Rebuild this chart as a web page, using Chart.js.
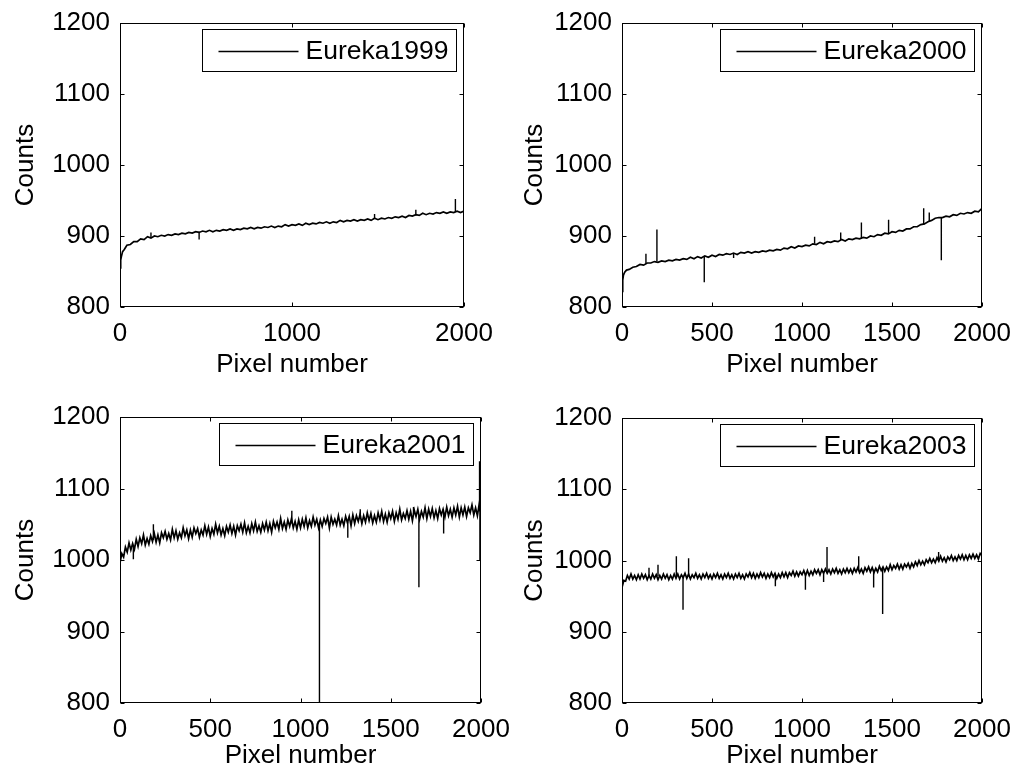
<!DOCTYPE html>
<html>
<head>
<meta charset="utf-8">
<script src="https://cdn.jsdelivr.net/npm/chart.js@4.4.0/dist/chart.umd.min.js"></script>
<style>
body { margin: 0; background: #fff; }
#wrap { position: relative; width: 1018px; height: 776px; overflow: hidden; }
canvas { position: absolute; }
</style>
</head>
<body>
<div id="wrap">
  <canvas id="c1"></canvas>
  <canvas id="c2"></canvas>
  <canvas id="c3"></canvas>
  <canvas id="c4"></canvas>
</div>
<script>
var pixels = [0, 4, 8, 15, 25, 40, 60, 80, 100, 120, 140, 160, 180, 200, 220, 240, 260, 280, 300,
  320, 340, 360, 380, 400, 420, 440, 460, 480, 500, 520, 540, 560, 580, 600, 620, 640, 660, 680, 700,
  720, 740, 760, 780, 800, 820, 840, 860, 880, 900, 920, 940, 960, 980, 1000, 1020, 1040, 1060, 1080, 1100,
  1120, 1140, 1160, 1180, 1200, 1220, 1240, 1260, 1280, 1300, 1320, 1340, 1360, 1380, 1400, 1420, 1440, 1460,
  1480, 1500, 1520, 1540, 1560, 1580, 1600, 1620, 1640, 1660, 1680, 1700, 1720, 1740, 1760, 1780, 1800,
  1820, 1840, 1860, 1880, 1900, 1920, 1940, 1960, 1980, 2000];

// denser reading for the two noisier ones
var finePixels = [0, 10, 20, 30, 40, 50, 60, 70, 80, 90,
  100, 110, 120, 130, 140, 150, 160, 170, 180, 190, 200, 210, 220, 230, 240, 250, 260, 270, 280, 290,
  300, 310, 320, 330, 340, 350, 360, 370, 380, 390, 400, 410, 420, 430, 440, 450, 460, 470, 480, 490,
  500, 510, 520, 530, 540, 550, 560, 570, 580, 590, 600, 610, 620, 630, 640, 650, 660, 670, 680, 690,
  700, 710, 720, 730, 740, 750, 760, 770, 780, 790, 800, 810, 820, 830, 840, 850, 860, 870, 880, 890,
  900, 910, 920, 930, 940, 950, 960, 970, 980, 990, 1000, 1010, 1020, 1030, 1040, 1050, 1060, 1070, 1080, 1090,
  1100, 1110, 1120, 1130, 1140, 1150, 1160, 1170, 1180, 1190, 1200, 1210, 1220, 1230, 1240, 1250, 1260, 1270, 1280, 1290,
  1300, 1310, 1320, 1330, 1340, 1350, 1360, 1370, 1380, 1390, 1400, 1410, 1420, 1430, 1440, 1450, 1460, 1470, 1480, 1490,
  1500, 1510, 1520, 1530, 1540, 1550, 1560, 1570, 1580, 1590, 1600, 1610, 1620, 1630, 1640, 1650, 1660, 1670, 1680, 1690,
  1700, 1710, 1720, 1730, 1740, 1750, 1760, 1770, 1780, 1790, 1800, 1810, 1820, 1830, 1840, 1850, 1860, 1870, 1880, 1890,
  1900, 1910, 1920, 1930, 1940, 1950, 1960, 1970, 1980, 1990, 2000];

var eureka1999 = [855, 866, 871, 878, 881, 887, 888, 892, 892, 896, 895, 899, 897, 900, 899, 901, 900, 902, 901,
  903, 902, 904, 903, 905, 904, 906, 905, 907, 906, 908, 906, 908, 907, 909, 908, 910, 908, 910, 909,
  911, 910, 912, 910, 912, 911, 913, 912, 914, 912, 914, 913, 916, 914, 916, 915, 917, 915, 918, 916,
  918, 917, 919, 918, 920, 918, 920, 919, 922, 920, 922, 921, 923, 921, 923, 922, 924, 922,
  925, 923, 925, 924, 926, 925, 927, 926, 928, 926, 929, 928, 930, 929, 932, 930, 932,
  931, 933, 932, 934, 932, 934, 933, 935, 933, 935];

var eureka2000 = [822, 838, 845, 849, 852, 853, 856, 857, 860, 859, 862, 862, 864, 863, 865, 864, 866, 865, 867,
  866, 868, 867, 870, 868, 871, 869, 872, 870, 873, 871, 874, 873, 875, 874, 876, 874, 877, 876, 878,
  876, 878, 877, 879, 878, 880, 879, 881, 880, 883, 882, 885, 883, 886, 885, 887, 886, 889, 888, 891,
  889, 892, 891, 893, 892, 895, 893, 896, 895, 897, 896, 898, 897, 900, 899, 902, 901, 904,
  903, 906, 905, 908, 907, 910, 910, 913, 913, 916, 917, 920, 922, 925, 926, 926, 928,
  927, 930, 929, 932, 931, 933, 932, 935, 934, 939];

var eureka2001 = [996, 1009, 1004, 1018, 1011, 1024, 1014, 1023, 1015, 1029,
  1019, 1031, 1023, 1035, 1021, 1030, 1022, 1034, 1026, 1037,
  1025, 1035, 1024, 1038, 1031, 1040, 1029, 1037, 1028, 1043,
  1031, 1041, 1029, 1038, 1031, 1045, 1034, 1042, 1030, 1042,
  1032, 1045, 1037, 1044, 1032, 1042, 1035, 1048, 1036, 1046,
  1033, 1044, 1036, 1050, 1038, 1047, 1035, 1044, 1034, 1047,
  1039, 1049, 1037, 1047, 1035, 1048, 1041, 1050, 1039, 1052,
  1038, 1047, 1038, 1051, 1041, 1053, 1040, 1048, 1039, 1051,
  1042, 1053, 1041, 1051, 1039, 1054, 1045, 1053, 1043, 1058,
  1044, 1053, 1043, 1056, 1047, 1058, 1045, 1054, 1043, 1056,
  1045, 1057, 1047, 1059, 1045, 1055, 1047, 1060, 1049, 1057,
  1045, 1056, 1047, 1058, 1051, 1060, 1045, 1060, 1050, 1057,
  1049, 1062, 1049, 1057, 1048, 1061, 1052, 1061, 1048, 1063,
  1051, 1062, 1054, 1064, 1051, 1062, 1053, 1066, 1055, 1065,
  1052, 1062, 1053, 1066, 1056, 1068, 1054, 1064, 1053, 1066,
  1058, 1068, 1054, 1066, 1057, 1071, 1056, 1065, 1058, 1069,
  1057, 1068, 1055, 1070, 1061, 1071, 1057, 1068, 1060, 1073,
  1058, 1071, 1061, 1072, 1059, 1069, 1058, 1072, 1063, 1071,
  1060, 1074, 1062, 1071, 1060, 1073, 1063, 1075, 1060, 1073,
  1063, 1074, 1061, 1073, 1066, 1077, 1063, 1073, 1062, 1078,
  1068];

var eureka2003 = [962, 972, 971, 979, 974, 981, 974, 979, 973, 980,
  974, 981, 975, 980, 973, 979, 974, 981, 975, 980,
  973, 979, 974, 981, 975, 980, 973, 979, 974, 981,
  975, 981, 974, 980, 976, 982, 975, 981, 974, 980,
  976, 982, 975, 980, 974, 981, 976, 982, 975, 980,
  974, 981, 976, 982, 975, 980, 974, 981, 976, 982,
  975, 980, 974, 981, 976, 982, 975, 980, 974, 981,
  977, 983, 976, 982, 975, 981, 976, 983, 977, 982,
  975, 981, 976, 983, 977, 982, 975, 981, 976, 983,
  977, 983, 976, 983, 979, 985, 978, 984, 978, 984,
  980, 986, 979, 986, 979, 985, 980, 987, 982, 987,
  980, 987, 982, 988, 982, 987, 981, 988, 983, 989,
  982, 987, 981, 988, 983, 989, 983, 988, 982, 989,
  984, 990, 983, 988, 982, 990, 985, 991, 984, 990,
  983, 989, 984, 992, 986, 991, 985, 991, 986, 994,
  987, 993, 989, 995, 988, 994, 988, 995, 991, 996,
  989, 996, 991, 998, 993, 1000, 994, 999, 994, 1001,
  997, 1003, 997, 1002, 997, 1004, 999, 1006, 999, 1004,
  998, 1005, 1001, 1007, 1000, 1005, 1000, 1007, 1002, 1008,
  1001, 1007, 1001, 1008, 1003, 1009, 1003, 1008, 1002, 1010,
  1007];

// single-pixel spikes: [pixel, level beside it, tip]
var spikes1999 = [[180, 898, 905], [460, 906, 895], [1480, 924, 931], [1720, 929, 937], [1950, 934, 952]];
var spikes2000 = [[133, 861, 875], [194, 864, 909], [457, 871, 835], [620, 876, 869], [1070, 889, 899],
  [1215, 894, 905], [1330, 897, 919], [1481, 903, 923], [1676, 916, 939], [1707, 920, 933], [1774, 926, 866]];
var spikes2001 = [[74, 1020, 1001], [185, 1028, 1050], [952, 1051, 1069], [1105, 1052, 800], [1262, 1054, 1031],
  [1331, 1057, 1071], [1626, 1064, 1074], [1656, 1062, 962], [1793, 1066, 1037], [1992, 1068, 1138], [1994, 1068, 999]];
var spikes2003 = [[150, 978, 990], [200, 978, 994], [302, 978, 1006], [339, 978, 931], [370, 978, 1003],
  [852, 979, 964], [1019, 981, 959], [1120, 982, 970], [1139, 984, 1019], [1315, 985, 1006],
  [1398, 987, 962], [1448, 988, 925], [1759, 1002, 1012]];

var yTicks = [800, 900, 1000, 1100, 1200];

Chart.defaults.font.family = '"Liberation Sans", Arial, sans-serif';
Chart.defaults.color = '#000';

var panels = [
  { id: 'c1', left: 0, top: 0, w: 509, h: 388, area: [120, 23, 464, 307], step: 1000, titlePad: 8,
    label: 'Eureka1999', xs: pixels, ys: eureka1999, spikes: spikes1999 },
  { id: 'c2', left: 509, top: 0, w: 509, h: 388, area: [622, 23, 982, 307], step: 500, titlePad: 8,
    label: 'Eureka2000', xs: pixels, ys: eureka2000, spikes: spikes2000 },
  { id: 'c3', left: 0, top: 388, w: 540, h: 388, area: [120, 417, 481, 703], step: 500, titlePad: 5,
    label: 'Eureka2001', xs: finePixels, ys: eureka2001, spikes: spikes2001 },
  { id: 'c4', left: 509, top: 388, w: 509, h: 388, area: [622, 418, 982, 703], step: 500, titlePad: 5,
    label: 'Eureka2003', xs: finePixels, ys: eureka2003, spikes: spikes2003 }
];

// box around the axes, inward ticks and a boxed legend like the original
var matlabBox = {
  id: 'matlabBox',
  afterDraw: function(chart) {
    var ctx = chart.ctx, a = chart.chartArea;
    var xs = chart.scales.x, ys = chart.scales.y;
    var L = Math.round(a.left) + 0.5, R = Math.round(a.right) - 0.5;
    var T = Math.round(a.top) + 0.5, B = Math.round(a.bottom) - 0.5;
    ctx.save();
    ctx.strokeStyle = '#000';
    ctx.lineWidth = 1;
    ctx.strokeRect(L, T, R - L, B - T);
    ctx.beginPath();
    xs.ticks.forEach(function(t) {
      var p = Math.round(xs.getPixelForValue(t.value)) + 0.5;
      ctx.moveTo(p, B); ctx.lineTo(p, B - 4);
      ctx.moveTo(p, T); ctx.lineTo(p, T + 4);
    });
    ys.ticks.forEach(function(t) {
      var p = Math.round(ys.getPixelForValue(t.value)) + 0.5;
      ctx.moveTo(L, p); ctx.lineTo(L + 4, p);
      ctx.moveTo(R, p); ctx.lineTo(R - 4, p);
    });
    ctx.stroke();

    var label = chart.data.datasets[0].label;
    ctx.font = '26.5px "Liberation Sans", Arial, sans-serif';
    var tw = ctx.measureText(label).width;
    var bw = Math.round(16 + 80 + 7 + tw + 8), bh = 42;
    var bx = Math.round(a.right - 8.5 - bw) + 0.5, by = Math.round(a.top + 6) + 0.5;
    ctx.fillStyle = '#fff';
    ctx.fillRect(bx, by, bw, bh);
    ctx.strokeRect(bx, by, bw, bh);
    ctx.beginPath();
    ctx.lineWidth = 1.3;
    ctx.moveTo(bx + 16, by + 22); ctx.lineTo(bx + 96, by + 22);
    ctx.stroke();
    ctx.fillStyle = '#000';
    ctx.textBaseline = 'middle';
    ctx.fillText(label, bx + 103, by + 22);
    ctx.restore();
  }
};

panels.forEach(function(p) {
  var cv = document.getElementById(p.id);
  cv.width = p.w; cv.height = p.h;
  cv.style.left = p.left + 'px'; cv.style.top = p.top + 'px';
  cv.style.width = p.w + 'px'; cv.style.height = p.h + 'px';

  var line = p.xs.map(function(x, i) { return { x: x, y: p.ys[i] }; });
  var spk = [];
  p.spikes.forEach(function(s) {
    spk.push({ x: s[0], y: s[1] }, { x: s[0], y: s[2] }, { x: s[0], y: null });
  });

  new Chart(cv, {
    type: 'line',
    data: {
      datasets: [
        { label: p.label, data: line, borderColor: '#000', borderWidth: 1.7, pointRadius: 0, tension: 0, fill: false },
        { label: '', data: spk, borderColor: '#000', borderWidth: 1.4, pointRadius: 0, spanGaps: false, fill: false }
      ]
    },
    options: {
      responsive: false,
      animation: false,
      events: [],
      layout: { padding: { left: 0, bottom: 0, top: p.area[1] - p.top, right: p.left + p.w - p.area[2] } },
      plugins: { legend: { display: false }, tooltip: { enabled: false } },
      scales: {
        x: {
          type: 'linear', min: 0, max: 2000,
          grid: { display: false, drawTicks: false },
          border: { display: false },
          ticks: { stepSize: p.step, autoSkip: false, maxRotation: 0, padding: 11, font: { size: 26 },
                   callback: function(v) { return String(v); } },
          title: { display: true, text: 'Pixel number', font: { size: 26 }, padding: { top: 0, bottom: p.titlePad } },
          afterFit: function(s) {
            s.height = p.top + p.h - p.area[3];
            s.paddingLeft = 0; s.paddingRight = 0;
          }
        },
        y: {
          min: 800, max: 1200,
          afterBuildTicks: function(s) { s.ticks = yTicks.map(function(v) { return { value: v }; }); },
          grid: { display: false, drawTicks: false },
          border: { display: false },
          ticks: { autoSkip: false, padding: 10, font: { size: 26 },
                   callback: function(v) { return String(v); } },
          title: { display: true, text: 'Counts', font: { size: 26 }, padding: { top: 10, bottom: 0 } },
          afterFit: function(s) {
            s.width = p.area[0] - p.left;
            s.paddingTop = 0; s.paddingBottom = 0;
          }
        }
      }
    },
    plugins: [matlabBox]
  });
});
</script>
</body>
</html>
